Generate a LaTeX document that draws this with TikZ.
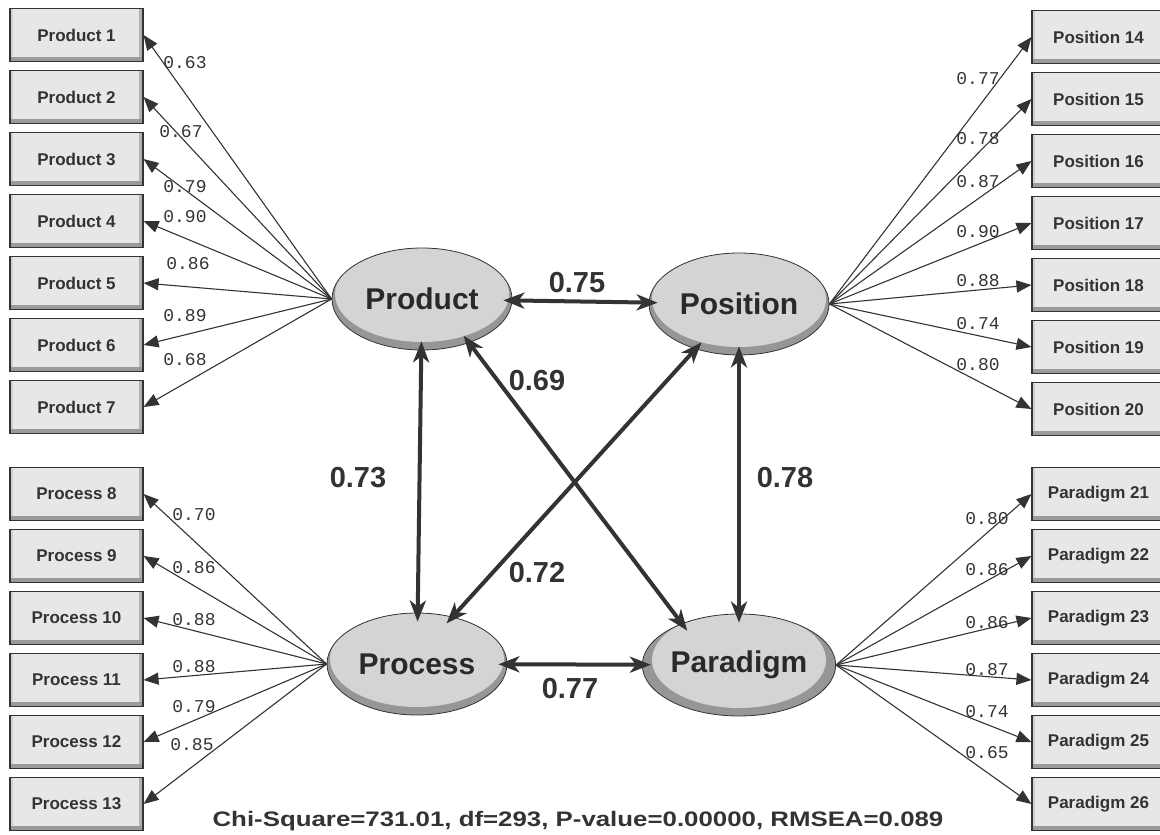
\documentclass[tikz,border=0pt]{standalone}
\usepackage{fontspec}
\setsansfont{Liberation Sans}
\setmonofont{Liberation Mono}
\usetikzlibrary{shapes.geometric,arrows.meta}
\definecolor{ink}{HTML}{333333}
\definecolor{boxfill}{HTML}{E6E7E9}
\definecolor{boxdark}{HTML}{9A9A9C}
\definecolor{boxside}{HTML}{B2B3B5}
\definecolor{boxlight}{HTML}{CFD0D2}
\definecolor{ellfill}{HTML}{D3D4D6}
\definecolor{ellrim}{HTML}{969698}

\begin{document}
\begin{tikzpicture}[x=1pt,y=-1pt,
		item/.style={draw=ink,line width=1.1pt,fill=boxfill,minimum width=133pt,minimum height=53pt,inner sep=0pt,text=ink,
			font=\sffamily\bfseries\fontsize{17}{20}\selectfont,
			path picture={
				\fill[boxlight] (path picture bounding box.south west) rectangle ([xshift=3pt]path picture bounding box.north west);
				\fill[boxside] ([xshift=-4pt]path picture bounding box.south east) rectangle (path picture bounding box.north east);
				\fill[boxdark] (path picture bounding box.south west) rectangle ([yshift=5pt]path picture bounding box.south east);}},
		factor/.style={ellipse,draw=ink,line width=0.8pt,fill=ellrim,minimum width=180pt,minimum height=102pt,inner sep=0pt,text=ink!80!black,
			font=\sffamily\bfseries\fontsize{30}{33}\selectfont,
			path picture={\fill[ellfill] ([yshift=5pt]path picture bounding box.center) ellipse [x radius=87pt,y radius=48pt];}},
		load/.style={ink,line width=1.1pt,-{Triangle[length=15pt,width=12pt]}},
		corr/.style={ink,line width=4pt,{Stealth[length=21pt,width=16pt,inset=6pt]}-{Stealth[length=21pt,width=16pt,inset=6pt]},shorten <=-9pt,shorten >=-9pt},
		wt/.style={font=\ttfamily\fontsize{18}{20}\selectfont,text=ink,inner sep=0pt},
		coef/.style={font=\sffamily\bfseries\fontsize{29}{32}\selectfont,text=ink,inner sep=0pt}]
		\useasboundingbox (0,0) rectangle (1160,835);
		
		% observed items
		\foreach \i in {1,...,7}
			\node[item] (prod\i) at (76.5,{35+62*(\i-1)}) {Product \i};
		\foreach \i in {8,...,13}
			\node[item] (proc\i) at (76.5,{494+62*(\i-8)}) {Process \i};
		\foreach \i in {14,...,20}
			\node[item] (posi\i) at (1098.5,{37+62*(\i-14)}) {Position \i};
		\foreach \i in {21,...,26}
			\node[item] (para\i) at (1098.5,{494+62*(\i-21)}) {Paradigm \i};
		
		% latent factors
		\node[factor] (Product) at (422,299) {Product};
		\node[factor] (Position) at (739,304) {Position};
		\node[factor] (Process) at (417,664) {Process};
		\node[factor] (Paradigm) at (739,665) {Paradigm};
		
		% loadings
		\foreach \i/\val/\lx/\ly in {1/0.63/185/63,2/0.67/181/132,3/0.79/185/187,4/0.90/185/217,5/0.86/188/264,6/0.89/185/316,7/0.68/185/360}{
			\draw[load] (Product.west) -- (prod\i.east);
			\node[wt] (w\i) at (\lx,\ly) {\val};
		}
		\foreach \i/\val/\lx/\ly in {8/0.70/194/515,9/0.86/194/568,10/0.88/194/620,11/0.88/194/667,12/0.79/194/707,13/0.85/192/745}{
			\draw[load] (Process.west) -- (proc\i.east);
			\node[wt] (w\i) at (\lx,\ly) {\val};
		}
		\foreach \i/\val/\lx/\ly in {14/0.77/978/79,15/0.78/978/139,16/0.87/978/182,17/0.90/978/232,18/0.88/978/281,19/0.74/978/324,20/0.80/978/365}{
			\draw[load] (Position.east) -- (posi\i.west);
			\node[wt] (w\i) at (\lx,\ly) {\val};
		}
		\foreach \i/\val/\lx/\ly in {21/0.80/987/519,22/0.86/987/570,23/0.86/987/623,24/0.87/987/670,25/0.74/987/712,26/0.65/987/753}{
			\draw[load] (Paradigm.east) -- (para\i.west);
			\node[wt] (w\i) at (\lx,\ly) {\val};
		}
		
		% correlations
		\draw[corr] (Product) -- (Position);
		\draw[corr] (Product) -- (Process);
		\draw[corr] (Position) -- (Paradigm);
		\draw[corr] (Process) -- (Paradigm);
		\draw[corr] (Product.-43) -- (Paradigm.144);
		\draw[corr] (Position.226) -- (Process.53);
		\node[coef] (c1) at (577,283) {0.75};
		\node[coef] (c2) at (537,381) {0.69};
		\node[coef] (c3) at (358,478) {0.73};
		\node[coef] (c4) at (785,478) {0.78};
		\node[coef] (c5) at (537,573) {0.72};
		\node[coef] (c6) at (570,689) {0.77};
		
		\node[font=\sffamily\bfseries\fontsize{21}{24}\selectfont,text=ink] (fit) at (578,821) {\scalebox{1.23}[1]{Chi-Square=731.01, df=293, P-value=0.00000, RMSEA=0.089}};
	\end{tikzpicture}
\end{document}
